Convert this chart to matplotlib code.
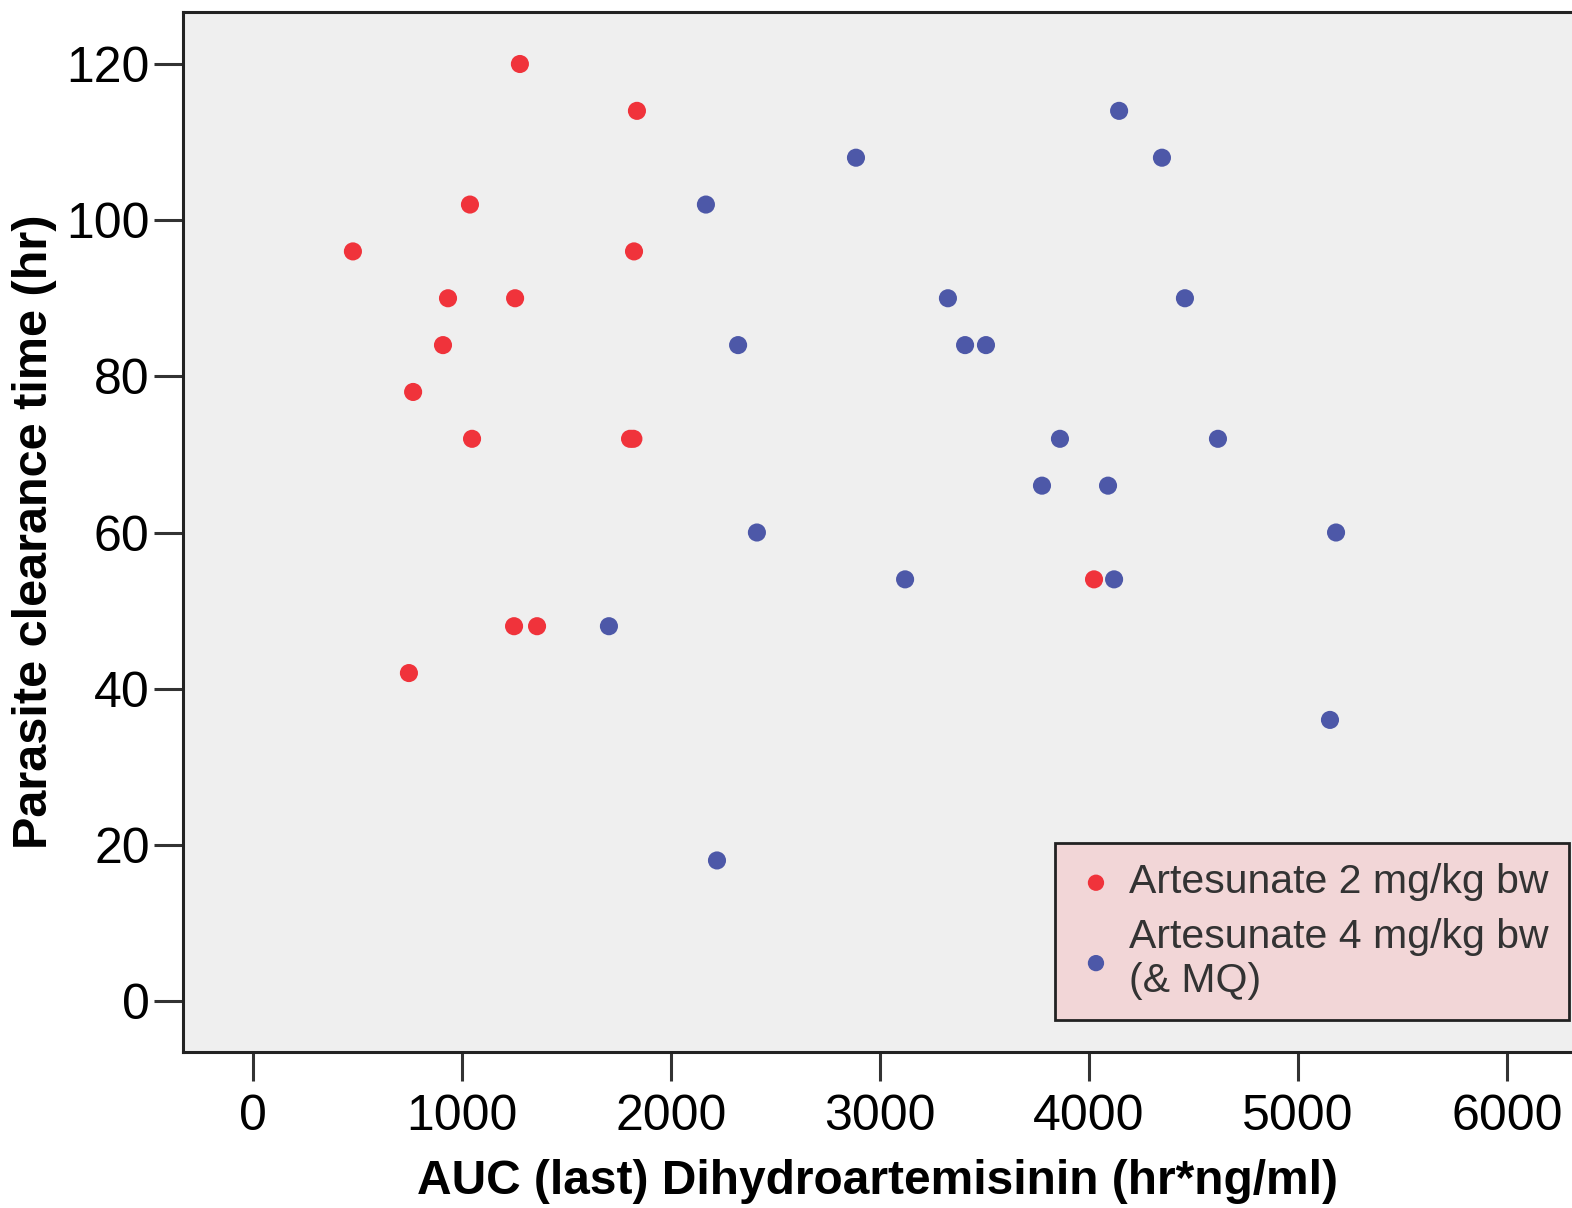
import matplotlib.pyplot as plt
import matplotlib as mpl

mpl.rcParams['font.family'] = ['Liberation Sans', 'DejaVu Sans']

# Artesunate 2 mg/kg bw
auc_2mg = [1277, 1837, 1038, 478, 1823, 933, 1254, 909, 766, 1048, 1804, 1820,
           4024, 1249, 1359, 746]
pct_2mg = [120, 114, 102, 96, 96, 90, 90, 84, 78, 72, 72, 72,
           54, 48, 48, 42]

# Artesunate 4 mg/kg bw (& MQ)
auc_4mg = [4144, 2885, 4349, 2167, 3325, 4459, 2321, 3407, 3507, 3861, 4617,
           3775, 4091, 2411, 5182, 3120, 4120, 1703, 5153, 2220]
pct_4mg = [114, 108, 108, 102, 90, 90, 84, 84, 84, 72, 72,
           66, 66, 60, 60, 54, 54, 48, 36, 18]

fig = plt.figure(figsize=(15.72, 12.08), dpi=100)
ax = fig.add_axes([183 / 1572, 1 - 1052 / 1208, 1 - 183 / 1572, (1052 - 12) / 1208])
ax.set_facecolor('#efefef')

ax.scatter(auc_2mg, pct_2mg, s=170, color='#f0333b', edgecolors='none',
           label='Artesunate 2 mg/kg bw', zorder=3)
ax.scatter(auc_4mg, pct_4mg, s=170, color='#4d58a8', edgecolors='none',
           label='Artesunate 4 mg/kg bw\n(& MQ)', zorder=3)

ax.set_xlim(-335, 6311)
ax.set_ylim(-6.53, 126.66)
ax.set_xticks([0, 1000, 2000, 3000, 4000, 5000, 6000])
ax.set_yticks([0, 20, 40, 60, 80, 100, 120])

for side in ['left', 'bottom', 'top']:
    ax.spines[side].set_linewidth(2.2)
    ax.spines[side].set_color('#222222')
ax.spines['right'].set_visible(False)

ax.tick_params(axis='both', direction='out', length=21, width=2.2,
               color='#333333', labelsize=36)
ax.tick_params(axis='y', pad=3)
ax.tick_params(axis='x', pad=9)

ax.set_xlabel('AUC (last) Dihydroartemisinin (hr*ng/ml)', fontsize=34.5,
              fontweight='bold', va='center')
ax.set_ylabel('Parasite clearance time (hr)', fontsize=35,
              fontweight='bold', va='center')
ax.xaxis.set_label_coords(0.5, (1052 - 1182) / 1040)
ax.yaxis.set_label_coords((35 - 183) / 1389, 0.5)

leg = ax.legend(loc='upper left', bbox_to_anchor=(1055 / 1572, 1 - 843 / 1208),
                bbox_transform=fig.transFigure, borderaxespad=0,
                fontsize=29.5, frameon=True, fancybox=False, framealpha=1,
                facecolor='#f2d6d7', edgecolor='#222222',
                handletextpad=0.3, labelspacing=0.4, borderpad=0.5,
                handlelength=1.0, markerscale=0.9)
leg.get_frame().set_linewidth(2)
for t in leg.get_texts():
    t.set_color('#333333')

fig.savefig('out.png', dpi=100)
